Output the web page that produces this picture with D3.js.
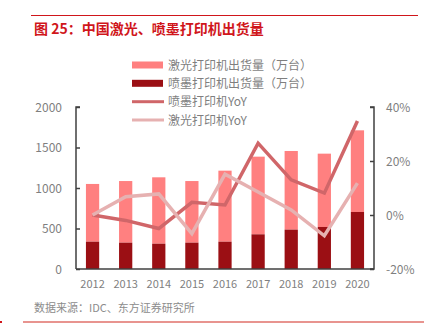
<!DOCTYPE html>
<html><head><meta charset="utf-8">
<script src="https://cdn.jsdelivr.net/npm/d3@7"></script>
<style>body{margin:0;background:#fff;}svg{display:block;font-family:"Noto Sans CJK SC","Noto Sans",sans-serif;}</style>
</head><body><svg id="c" width="430" height="336"></svg>
<script>
const years = ["2012","2013","2014","2015","2016","2017","2018","2019","2020"];
const inkjet = [337, 325, 312, 325, 337, 428, 486, 519, 704];
const laser = [713, 761, 820, 761, 877, 959, 971, 905, 1008];
const inkjetYoY = [0, -2, -5, 4.7, 3.7, 26.6, 13, 8.1, 34.8];
const laserYoY = [0, 6.8, 7.8, -6.9, 15.1, 8.5, 1.9, -7.7, 11.8];
const leftTicks = [0, 500, 1000, 1500, 2000];
const rightTicks = [-20, 0, 20, 40];
const seriesNames = ["激光打印机出货量（万台）","喷墨打印机出货量（万台）","喷墨打印机YoY","激光打印机YoY"];
const colors = {laser:"#ff8080", inkjet:"#9b0f14", inkYoY:"#d06669", laserYoY:"#e6b1b1"};

const svg = d3.select("#c");
const L = 76, R = 374, T = 107, B = 269;
const x = d3.scaleBand().domain(years).range([L, R]).paddingInner(0.6).paddingOuter(0.3);
const yL = d3.scaleLinear().domain([0, 2000]).range([B, T]);
const yR = d3.scaleLinear().domain([-20, 40]).range([B, T]);

// top line & title
svg.append("line").attr("x1",31).attr("x2",418).attr("y1",15.5).attr("y2",15.5).attr("stroke","#d0161b").attr("stroke-width",1);
svg.append("text").attr("x",34).attr("y",33.5).attr("fill","#d0161b").attr("font-size",14).attr("font-weight","bold").text("图 25：中国激光、喷墨打印机出货量");

// bars
const g = svg.append("g");
years.forEach((yr,i)=>{
  g.append("rect").attr("x",x(yr)).attr("width",x.bandwidth()).attr("y",yL(inkjet[i]+laser[i])).attr("height",yL(inkjet[i])-yL(inkjet[i]+laser[i])).attr("fill",colors.laser);
  g.append("rect").attr("x",x(yr)).attr("width",x.bandwidth()).attr("y",yL(inkjet[i])).attr("height",yL(0)-yL(inkjet[i])).attr("fill",colors.inkjet);
});

// lines
const cx = d => x(d) + x.bandwidth()/2;
const lineGen = d3.line().x((d,i)=>cx(years[i])).y(d=>yR(d));
svg.append("path").datum(inkjetYoY).attr("d",lineGen).attr("fill","none").attr("stroke",colors.inkYoY).attr("stroke-width",3.5);
svg.append("path").datum(laserYoY).attr("d",lineGen).attr("fill","none").attr("stroke",colors.laserYoY).attr("stroke-width",3.5);

// axes
const axisColor = "#404040", labelColor = "#7f7f7f";
const la = svg.append("g").attr("transform",`translate(${L},0)`).call(d3.axisRight(yL).tickValues(leftTicks).tickSize(4).tickFormat(""));
la.select(".domain").attr("stroke",axisColor).attr("stroke-width",1.5).attr("d",`M4,${T}H0V${B}`);
la.selectAll(".tick line").attr("stroke",axisColor).attr("stroke-width",1.5);
leftTicks.forEach(t=>svg.append("text").attr("x",62).attr("y",yL(t)+4.5).attr("text-anchor","end").attr("font-size",12).attr("fill",labelColor).text(t));

const ra = svg.append("g").attr("transform",`translate(${R},0)`).call(d3.axisLeft(yR).tickValues(rightTicks).tickSize(4).tickFormat(""));
ra.select(".domain").attr("stroke",axisColor).attr("stroke-width",1.5).attr("d",`M-4,${T}H0V${B}H-4`);
ra.selectAll(".tick line").attr("stroke",axisColor).attr("stroke-width",1.5);
rightTicks.forEach(t=>svg.append("text").attr("x",386).attr("y",yR(t)+4.5).attr("text-anchor","start").attr("font-size",12).attr("fill",labelColor).text(t+"%"));

svg.append("line").attr("x1",L).attr("x2",R).attr("y1",B).attr("y2",B).attr("stroke",axisColor).attr("stroke-width",1.5);
years.forEach(yr=>svg.append("text").attr("x",cx(yr)).attr("y",288).attr("text-anchor","middle").attr("font-size",11).attr("fill",labelColor).text(yr));

// legend
const legY = [65, 83.3, 101.7, 120];
const leg = svg.append("g");
[colors.laser, colors.inkjet].forEach((c,i)=>leg.append("rect").attr("x",132).attr("y",legY[i]-3.5).attr("width",31).attr("height",7).attr("fill",c));
[colors.inkYoY, colors.laserYoY].forEach((c,i)=>leg.append("line").attr("x1",132).attr("x2",164).attr("y1",legY[i+2]).attr("y2",legY[i+2]).attr("stroke",c).attr("stroke-width",3));
seriesNames.forEach((n,i)=>leg.append("text").attr("x",168).attr("y",legY[i]+4.5).attr("font-size",12).attr("fill",labelColor).text(n));

// source & bottom line
svg.append("text").attr("x",34).attr("y",312).attr("font-size",11).attr("fill","#8c8c8c").text("数据来源：IDC、东方证券研究所");
svg.append("line").attr("x1",23).attr("x2",424).attr("y1",322).attr("y2",322).attr("stroke","#e8948f").attr("stroke-width",2);
svg.append("line").attr("x1",0).attr("x2",2).attr("y1",322).attr("y2",322).attr("stroke","#d0161b").attr("stroke-width",2);
</script></body></html>
